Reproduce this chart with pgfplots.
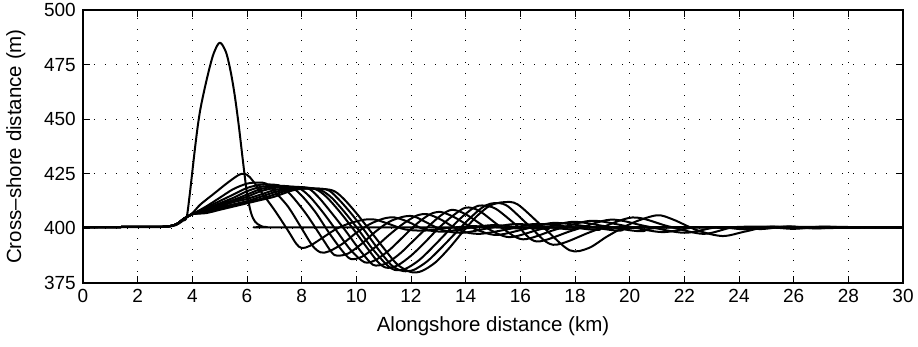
\documentclass[border=0pt]{standalone}
\usepackage{fontspec}
\setmainfont{Liberation Sans}
\usepackage{pgfplots}
\pgfplotsset{compat=1.18}
\pgfplotsset{shore/.style={black, solid, mark=none, line width=2pt, line join=round, smooth, tension=0.5}}
\begin{document}
\begin{tikzpicture}
\begin{axis}[
  width=820pt, height=273pt, scale only axis,
  xmin=0, xmax=30, ymin=375, ymax=500,
  xtick={0,2,...,30}, ytick={375,400,...,500},
  tick align=inside, major tick length=7pt,
  grid=major,
  major grid style={black, line width=0.8pt, dash pattern=on 0.9pt off 10.1pt},
  axis line style={line width=1.2pt},
  every tick/.style={black, line width=1pt},
  /pgf/number format/assume math mode=true,
  tick label style={font=\fontsize{19}{19}\selectfont},
  xticklabel style={yshift=-2.7pt},
  yticklabel style={xshift=-3.7pt},
  label style={font=\fontsize{20.5}{20.5}\selectfont},
  xlabel={Alongshore distance (km)},
  ylabel={Cross--shore distance (m)},
  xlabel style={at={(axis description cs:0.5,0)}, anchor=base, yshift=-48.7pt},
  ylabel style={at={(axis description cs:-0.0756,0.5)}, anchor=base},
]
% initial condition
\addplot[shore] coordinates {(0,400.5)(2,400.6)(3,400.7)(3.4,401.5)(3.65,403.5)(3.79,405)(3.9,415)(4.0,426)(4.1,437)(4.2,447)(4.3,455)(4.45,464)(4.6,472)(4.75,479)(4.9,483.5)(5.0,485)(5.1,484)(5.25,480)(5.4,472)(5.55,461)(5.7,447)(5.85,431)(6.0,416)(6.15,407)(6.3,403)(6.5,401.2)(6.75,400.6)(8,400.5)(30,400.5)};
% k=1
\addplot[shore] coordinates {(0,400.5)(2,400.7)(3,400.8)(3.4,401.8)(3.7,404.5)(4.0,407)(4.3,411)(4.8,416)(5.3,421)(5.7,424.5)(5.9,425)(6.1,423.5)(6.5,417)(7.0,408.5)(7.5,399)(7.8,393)(8.0,391)(8.3,392)(8.8,396)(9.3,400)(9.8,402.5)(10.3,404)(10.7,404)(11.2,402)(11.8,399.5)(12.5,399)(13.2,400)(14.2,401)(15,400.6)(16,400)(17,400.5)(30,400.5)};
% k=2
\addplot[shore] coordinates {(0,400.5)(2,400.7)(3,400.8)(3.4,401.8)(3.7,404.5)(4.0,406.5)(4.5,410)(5.0,414)(5.5,418)(6.0,420.5)(6.4,421)(6.7,420.5)(7.0,417)(7.5,410)(8.0,400)(8.4,392)(8.7,389)(9.0,389.5)(9.5,393)(10.0,398)(10.5,402)(11.0,404.5)(11.4,405)(11.9,403)(12.5,399.5)(13.2,398.5)(14.0,400)(15.0,401.5)(16.0,400.5)(17.0,399.8)(18.0,400.5)(30,400.5)};
% k=3
\addplot[shore] coordinates {(0,400.5)(2,400.7)(3,400.8)(3.4,401.8)(3.7,404.5)(4.0,406.5)(4.5,409.5)(5.0,412.5)(5.5,415.5)(6.0,418.5)(6.5,420)(7.0,420)(7.3,419)(7.7,414)(8.2,406)(8.7,396.5)(9.1,389)(9.3,387.5)(9.7,388.5)(10.2,393)(10.7,398.5)(11.2,403)(11.7,405.3)(12.1,405.5)(12.6,402.5)(13.2,399)(13.9,398)(14.8,400)(15.8,402)(16.8,401)(17.9,399.5)(19,400.5)(30,400.5)};
% k=4
\addplot[shore] coordinates {(0,400.5)(2,400.7)(3,400.8)(3.4,401.8)(3.7,404.5)(4.0,406.5)(4.5,409)(5.0,411.5)(5.5,414)(6.0,417)(6.5,419)(7.0,419.5)(7.6,419)(8.0,415)(8.5,407.5)(9.0,398)(9.5,389.5)(9.8,386)(10.2,387)(10.7,391.5)(11.2,397)(11.7,402)(12.2,405.8)(12.6,406.5)(13.1,404)(13.8,399)(14.5,397.5)(15.5,399.5)(16.5,402)(17.6,401)(18.8,399.3)(20,400.5)(30,400.5)};
% k=5
\addplot[shore] coordinates {(0,400.5)(2,400.7)(3,400.8)(3.4,401.8)(3.7,404.5)(4.0,406.5)(4.5,408.5)(5.0,411)(5.5,413)(6.0,415.5)(6.5,418)(7.0,419)(7.5,419.2)(7.9,418.5)(8.3,414.5)(8.8,407)(9.3,398.5)(9.8,390)(10.3,384.5)(10.7,385.5)(11.2,390)(11.7,396)(12.2,402)(12.7,406.5)(13.1,407.5)(13.6,405)(14.3,400)(15.1,397)(16.1,399.5)(17.2,402.5)(18.4,401)(19.6,399)(20.8,400.5)(30,400.5)};
% k=6
\addplot[shore] coordinates {(0,400.5)(2,400.7)(3,400.8)(3.4,401.8)(3.7,404.5)(4.0,406.5)(4.5,408)(5.0,410.5)(5.5,412.5)(6.0,414.5)(6.5,417)(7.0,418.5)(7.5,419)(8.2,418.5)(8.6,414.5)(9.1,407)(9.6,399)(10.1,390.5)(10.5,384.5)(10.7,383)(11.1,384)(11.6,388.5)(12.1,394.5)(12.6,400.5)(13.1,406)(13.5,408.5)(14.0,406.5)(14.8,400)(15.6,396)(16.7,399.5)(17.9,403)(19.1,401)(20.4,398.7)(21.6,400.5)(30,400.5)};
% k=7
\addplot[shore] coordinates {(0,400.5)(2,400.7)(3,400.8)(3.4,401.8)(3.7,404.5)(4.0,406.5)(4.5,408)(5.0,410)(5.5,412)(6.0,413.5)(6.5,415.5)(7.0,417.5)(7.5,418.5)(8.0,418.8)(8.5,418)(8.9,414.5)(9.4,407.5)(9.9,399.5)(10.4,391)(10.8,384.5)(11.1,382)(11.5,383)(12.0,387.5)(12.5,393.5)(13.0,400)(13.5,405.5)(14.0,409.5)(14.5,408)(15.3,400.5)(16.1,395)(17.3,399.5)(18.6,403.5)(19.9,401)(21.2,398.3)(22.4,400.5)(23.5,400.2)(24.5,400.8)(30,400.5)};
% k=8
\addplot[shore] coordinates {(0,400.5)(2,400.7)(3,400.8)(3.4,401.8)(3.7,404.5)(4.0,406.5)(4.5,407.5)(5.0,409.5)(5.5,411)(6.0,412.5)(6.5,414.5)(7.0,416.5)(7.5,418)(8.2,418.5)(8.7,417.5)(9.1,414)(9.6,407)(10.1,399)(10.6,390.5)(11.1,383.5)(11.4,381)(11.8,381.5)(12.3,385.5)(12.8,391.5)(13.3,398)(13.8,404.5)(14.3,409.5)(14.6,410.5)(15.1,409)(15.9,401)(16.6,394)(17.9,399)(19.3,404)(20.6,401)(22.0,398)(23.2,400.5)(24.2,399.6)(25.2,400.8)(26.2,400.1)(30,400.5)};
% k=9
\addplot[shore] coordinates {(0,400.5)(2,400.7)(3,400.8)(3.4,401.8)(3.7,404.5)(4.0,406.5)(4.5,407.5)(5.0,409)(5.5,410.5)(6.0,412)(6.5,413.5)(7.0,415.5)(7.5,417.5)(8.0,418.2)(8.9,417.8)(9.3,414)(9.8,407)(10.3,399)(10.8,390.5)(11.3,383)(11.7,380.5)(12.1,381)(12.6,385)(13.1,391)(13.6,397.5)(14.1,404)(14.6,409.5)(15.0,411.5)(15.5,410.5)(16.3,401.5)(17.2,392.5)(18.6,398.5)(20.1,405)(21.4,401)(22.7,397.5)(23.8,400.5)(24.8,399.7)(25.8,400.9)(26.8,400)(27.8,400.6)(30,400.5)};
% k=10
\addplot[shore] coordinates {(0,400.5)(2,400.7)(3,400.8)(3.4,401.8)(3.7,404.5)(4.0,406.5)(4.5,407)(5.0,408.5)(5.5,410)(6.0,411.5)(6.5,413)(7.0,414.5)(7.7,417.5)(8.3,418.3)(9.1,417.5)(9.5,414)(10.0,407)(10.5,399)(11.0,391)(11.5,383.5)(12.0,380)(12.4,380.5)(12.9,384.5)(13.4,391)(13.9,398.5)(14.4,405.5)(14.9,410.5)(15.4,412)(15.9,411)(16.8,401)(17.8,390)(18.5,391)(19.2,396.5)(20.1,402.5)(21.0,406)(21.6,404)(22.5,399)(23.4,396.5)(24.2,398.5)(25,400.5)(26,399.8)(27,400.8)(28,400.5)(30,400.5)};
\coordinate (sw) at (rel axis cs:0,0);
\coordinate (ne) at (rel axis cs:1,1);
\end{axis}
\pgfresetboundingbox
\path[use as bounding box] ([xshift=-83pt,yshift=-64pt]sw) rectangle ([xshift=15pt,yshift=10pt]ne);
\end{tikzpicture}
\end{document}
